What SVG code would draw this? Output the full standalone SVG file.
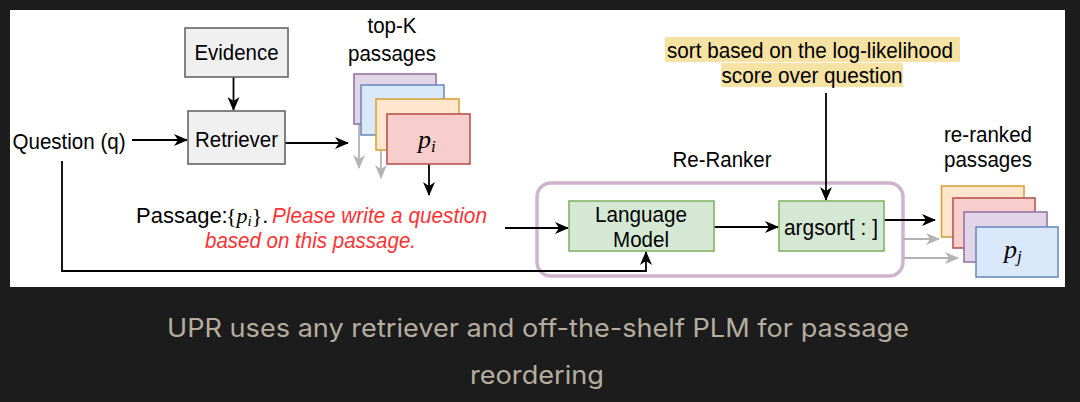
<svg xmlns="http://www.w3.org/2000/svg" width="1080" height="402" viewBox="0 0 1080 402">
<style>
.t{font-family:"Liberation Sans",Arial,sans-serif;font-size:22px;fill:#000}
.m{font-family:"Liberation Serif","Times New Roman",serif;font-style:italic;fill:#000}
.ms{font-family:"Liberation Serif","Times New Roman",serif;fill:#000}
.gray{fill:#f0f0f0;stroke:#666;stroke-width:1.6}
.green{fill:#d5e8d4;stroke:#82b366;stroke-width:1.6}
.c{fill:none;stroke:#000;stroke-width:1.8}
.cg{fill:none;stroke:#b3b3b3;stroke-width:1.8}
.red{font-style:italic;fill:#ff3333}
.cap{font-family:Inter,"Noto Sans",sans-serif;font-size:25px;fill:#b5ad9f}
</style>
<defs>
<marker id="ah" markerWidth="14" markerHeight="12" refX="13" refY="6" orient="auto" markerUnits="userSpaceOnUse"><path d="M0,0 L14,6 L0,12 L4,6 Z" fill="#000"/></marker>
<marker id="ahg" markerWidth="14" markerHeight="12" refX="13" refY="6" orient="auto" markerUnits="userSpaceOnUse"><path d="M0,0 L14,6 L0,12 L4,6 Z" fill="#b3b3b3"/></marker>
</defs>
<rect x="0" y="0" width="1080" height="402" fill="#1c1c1c"/>
<rect x="10" y="10" width="1055" height="277" fill="#fff"/>

<g id="reranker">
<rect x="537" y="183" width="366" height="93" rx="14" fill="none" stroke="#cfb3cf" stroke-width="3.5"/>
<text class="t" x="722" y="167" text-anchor="middle" textLength="99" lengthAdjust="spacingAndGlyphs">Re-Ranker</text>
</g>

<g id="connectors">
<line class="c" x1="233.5" y1="77" x2="233.5" y2="110" marker-end="url(#ah)"/>
<line class="c" x1="132" y1="140" x2="187" y2="140" marker-end="url(#ah)"/>
<line class="c" x1="285" y1="143" x2="348" y2="143" marker-end="url(#ah)"/>
<line class="cg" x1="359" y1="124" x2="359" y2="168" marker-end="url(#ahg)"/>
<line class="cg" x1="381" y1="150" x2="381" y2="178" marker-end="url(#ahg)"/>
<line class="c" x1="429" y1="164" x2="429" y2="195" marker-end="url(#ah)"/>
<polyline class="c" points="62,161 62,271 646,271 646,252" marker-end="url(#ah)"/>
<line class="c" x1="505" y1="228" x2="568" y2="228" marker-end="url(#ah)"/>
<line class="c" x1="714" y1="227" x2="778" y2="227" marker-end="url(#ah)"/>
<line class="c" x1="826" y1="93" x2="826" y2="200" marker-end="url(#ah)"/>
<line class="c" x1="884" y1="220" x2="935" y2="220" marker-end="url(#ah)"/>
<line class="cg" x1="903" y1="239" x2="939" y2="239" marker-end="url(#ahg)"/>
<line class="cg" x1="903" y1="258" x2="958" y2="258" marker-end="url(#ahg)"/>
</g>

<g id="evidence">
<rect class="gray" x="185" y="28" width="103" height="49"/>
<text class="t" x="236.5" y="60" text-anchor="middle" textLength="84" lengthAdjust="spacingAndGlyphs">Evidence</text>
</g>
<g id="retriever">
<rect class="gray" x="188" y="111" width="97" height="53"/>
<text class="t" x="236.5" y="147" text-anchor="middle" textLength="83" lengthAdjust="spacingAndGlyphs">Retriever</text>
</g>
<g id="question">
<text class="t" x="12.5" y="148.5" textLength="113" lengthAdjust="spacingAndGlyphs">Question (q)</text>
</g>

<g id="topk">
<text class="t" x="392" y="33" text-anchor="middle" textLength="49" lengthAdjust="spacingAndGlyphs">top-K</text>
<text class="t" x="392" y="61" text-anchor="middle" textLength="88" lengthAdjust="spacingAndGlyphs">passages</text>
<rect x="354" y="74" width="82" height="50" fill="#e1d5e7" stroke="#9673a6" stroke-width="1.6"/>
<rect x="361" y="85" width="83" height="50" fill="#dae8fc" stroke="#6c8ebf" stroke-width="1.6"/>
<rect x="376" y="99" width="83" height="51" fill="#ffe6cc" stroke="#d6a33a" stroke-width="1.6"/>
<rect x="387" y="114" width="83" height="50" fill="#f8cecc" stroke="#b85450" stroke-width="1.6"/>
<text class="m" x="418" y="148" font-size="26">p<tspan font-size="17" dy="4">i</tspan></text>
</g>

<g id="prompt">
<text class="t" x="136" y="222.5" font-size="21">Passage:<tspan class="ms" x="226" font-size="22">{</tspan><tspan class="m" font-size="22">p</tspan><tspan class="m" font-size="15" dy="3">i</tspan><tspan class="ms" font-size="22" dy="-3">}</tspan><tspan>.</tspan></text>
<text class="t red" x="272" y="222.5" textLength="215" lengthAdjust="spacingAndGlyphs">Please write a question</text>
<text class="t red" x="310.5" y="247.5" text-anchor="middle" textLength="211" lengthAdjust="spacingAndGlyphs">based on this passage.</text>
</g>

<g id="highlight">
<rect x="665" y="37" width="295" height="25" fill="#f6e2a3"/>
<rect x="721" y="63" width="182" height="24" fill="#f6e2a3"/>
<text class="t" x="810" y="57.5" text-anchor="middle" textLength="286" lengthAdjust="spacingAndGlyphs">sort based on the log-likelihood</text>
<text class="t" x="812" y="82.5" text-anchor="middle" textLength="181" lengthAdjust="spacingAndGlyphs">score over question</text>
</g>

<g id="lm">
<rect class="green" x="569" y="201" width="145" height="50"/>
<text class="t" x="641" y="222" text-anchor="middle" textLength="92" lengthAdjust="spacingAndGlyphs">Language</text>
<text class="t" x="641" y="247" text-anchor="middle" textLength="56" lengthAdjust="spacingAndGlyphs">Model</text>
</g>
<g id="argsort">
<rect class="green" x="779" y="201" width="105" height="50"/>
<text class="t" x="831" y="235" text-anchor="middle" textLength="94" lengthAdjust="spacingAndGlyphs">argsort[ : ]</text>
</g>

<g id="reranked">
<text class="t" x="988" y="142" text-anchor="middle" textLength="88" lengthAdjust="spacingAndGlyphs">re-ranked</text>
<text class="t" x="988" y="167" text-anchor="middle" textLength="88" lengthAdjust="spacingAndGlyphs">passages</text>
<rect x="941.5" y="186" width="82.5" height="51" fill="#ffe6cc" stroke="#d6a33a" stroke-width="1.6"/>
<rect x="953" y="198" width="82" height="50" fill="#f8cecc" stroke="#b85450" stroke-width="1.6"/>
<rect x="964" y="212" width="83" height="50" fill="#e1d5e7" stroke="#9673a6" stroke-width="1.6"/>
<rect x="976" y="227" width="82" height="50" fill="#dae8fc" stroke="#6c8ebf" stroke-width="1.6"/>
<text class="m" x="1004" y="258" font-size="26">p<tspan font-size="17" dy="4">j</tspan></text>
</g>

<g id="caption">
<text class="cap" x="538" y="337" text-anchor="middle" textLength="742" lengthAdjust="spacingAndGlyphs">UPR uses any retriever and off-the-shelf PLM for passage</text>
<text class="cap" x="537" y="384" text-anchor="middle" textLength="134" lengthAdjust="spacingAndGlyphs">reordering</text>
</g>
</svg>
